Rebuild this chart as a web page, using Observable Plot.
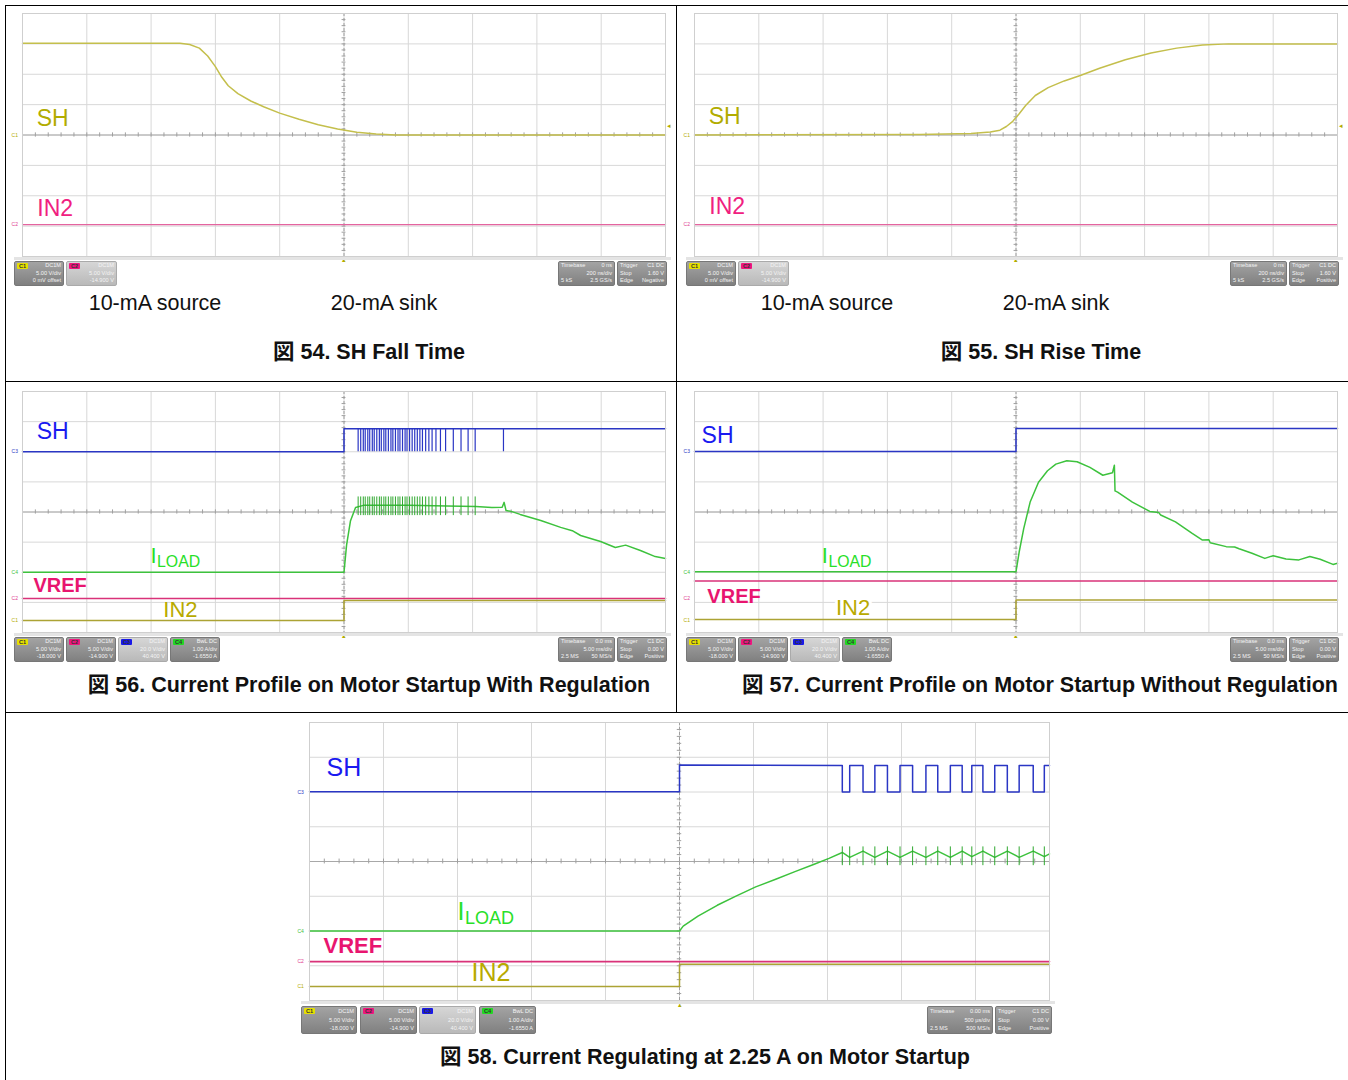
<!DOCTYPE html>
<html><head><meta charset="utf-8">
<script src="https://cdn.jsdelivr.net/npm/d3@7"></script>
<script src="https://cdn.jsdelivr.net/npm/@observablehq/plot@0.6"></script>
<style>
body{margin:0;background:#fff;}
#root{position:relative;width:1348px;height:1080px;overflow:hidden;background:#fff;font-family:"Liberation Sans",Arial,"Noto Sans CJK JP",sans-serif;}
.ln{position:absolute;background:#000;}
.txt{position:absolute;transform:translate(-50%,-50%);white-space:nowrap;color:#111;}
.cap{font-weight:bold;font-size:21.5px;font-family:"Liberation Sans",Arial,"Noto Sans CJK JP",sans-serif;}
.sub{font-size:21.5px;}
.box{position:absolute;box-sizing:border-box;border-radius:2px;background:linear-gradient(#a3a3a3,#808080);border:1px solid #777;font-size:5.6px;line-height:7.6px;color:#f4f4f4;padding:0 2px;}
.box.light{background:linear-gradient(#d6d6d6,#b9b9b9);border-color:#aaa;}
.box .row{display:flex;justify-content:space-between;}
.box .tag{display:inline-block;padding:0 2px;height:6px;line-height:6px;margin-top:1px;color:#333;font-weight:bold;border-radius:1px;}
.band{position:absolute;height:3px;background:#e4e4e4;}
</style></head><body><div id="root"></div>
<script>
// ---------------- DATA (scope screen units: x 0–10 div, y −4…+4 div) ----------------
// Fig 54 – SH fall
const fig54SH = [[0,3.02],[2.45,3.02],[2.6,2.98],[2.75,2.86],[2.88,2.6],[3.0,2.25],[3.1,1.9],[3.2,1.62],[3.35,1.36],[3.55,1.12],[3.75,0.93],[4.0,0.72],[4.3,0.52],[4.6,0.34],[4.9,0.2],[5.2,0.09],[5.5,0.03],[5.8,0.0],[10,0.0]];
const fig54IN2 = [[0,-2.95],[10,-2.95]];
// Fig 55 – SH rise
const fig55SH = [[0,0.0],[3.5,0.02],[4.3,0.05],[4.6,0.1],[4.75,0.16],[4.85,0.28],[4.95,0.45],[5.05,0.7],[5.15,0.97],[5.3,1.3],[5.5,1.56],[5.75,1.78],[6.0,1.96],[6.3,2.2],[6.7,2.48],[7.1,2.7],[7.5,2.86],[7.9,2.96],[8.3,3.0],[10,3.0]];
const fig55IN2 = [[0,-2.95],[10,-2.95]];
// Fig 56 – with regulation
const fig56SH = [[0,2.0],[5.0,2.0],[5.0,2.76],[10,2.76]];
const fig56SHPulses = [5.22,5.26,5.3,5.33,5.37,5.4,5.44,5.47,5.51,5.55,5.58,5.62,5.65,5.69,5.73,5.76,5.8,5.84,5.87,5.91,5.95,5.98,6.02,6.06,6.1,6.14,6.18,6.22,6.27,6.32,6.37,6.43,6.5,6.58,6.7,6.82,6.93,7.04,7.48];
const fig56ILOAD = [[0,-2.0],[5.0,-2.0],[5.04,-1.1],[5.1,-0.3],[5.18,0.15],[5.3,0.22],[6.0,0.22],[6.6,0.2],[7.05,0.18],[7.3,0.15],[7.46,0.16],[7.49,0.32],[7.52,0.05],[7.6,0.02],[7.74,-0.08],[8.06,-0.28],[8.37,-0.51],[8.55,-0.62],[8.68,-0.78],[8.99,-0.98],[9.22,-1.18],[9.38,-1.1],[9.61,-1.28],[9.84,-1.48],[10,-1.54]];
const fig56ILOADSpikes = [5.22,5.26,5.3,5.33,5.37,5.4,5.44,5.47,5.51,5.55,5.58,5.62,5.65,5.69,5.73,5.76,5.8,5.84,5.87,5.91,5.95,5.98,6.02,6.06,6.1,6.14,6.18,6.22,6.27,6.32,6.37,6.43,6.5,6.58,6.7,6.82,6.93,7.04];
const fig56VREF = [[0,-2.87],[10,-2.87]];
const fig56IN2 = [[0,-3.6],[5.0,-3.6],[5.0,-2.94],[10,-2.94]];
// Fig 57 – without regulation
const fig57SH = [[0,2.01],[5.0,2.01],[5.0,2.77],[10,2.77]];
const fig57ILOAD = [[0,-1.98],[5.0,-1.98],[5.05,-1.32],[5.12,-0.55],[5.22,0.33],[5.35,0.99],[5.49,1.37],[5.62,1.59],[5.79,1.7],[5.95,1.67],[6.15,1.48],[6.35,1.22],[6.5,1.3],[6.53,1.55],[6.54,0.7],[6.58,0.66],[6.81,0.33],[7.08,0.02],[7.22,-0.02],[7.25,-0.1],[7.48,-0.33],[7.74,-0.71],[7.9,-0.93],[8.0,-0.92],[8.02,-1.02],[8.27,-1.15],[8.4,-1.16],[8.47,-1.22],[8.67,-1.37],[8.87,-1.54],[9.0,-1.45],[9.2,-1.56],[9.4,-1.59],[9.57,-1.48],[9.73,-1.57],[9.93,-1.74],[10,-1.7]];
const fig57VREF = [[0,-2.29],[10,-2.29]];
const fig57IN2 = [[0,-3.57],[5.0,-3.57],[5.0,-2.92],[10,-2.92]];
// Fig 58 – regulating at 2.25 A
const fig58SH = [[0,2.01],[5.0,2.01],[5.0,2.78],[7.2,2.76],[7.2,2.0],[7.3,2.0],[7.3,2.76],[7.48,2.76],[7.48,2.0],[7.64,2.0],[7.64,2.76],[7.81,2.76],[7.81,2.0],[7.98,2.0],[7.98,2.76],[8.15,2.76],[8.15,2.0],[8.33,2.0],[8.33,2.76],[8.49,2.76],[8.49,2.0],[8.66,2.0],[8.66,2.76],[8.82,2.76],[8.82,2.0],[8.95,2.0],[8.95,2.76],[9.1,2.76],[9.1,2.0],[9.26,2.0],[9.26,2.76],[9.43,2.76],[9.43,2.0],[9.59,2.0],[9.59,2.76],[9.78,2.76],[9.78,2.0],[9.93,2.0],[9.93,2.76],[10,2.76]];
const fig58ILOAD = [[0,-2.0],[5.0,-2.0],[5.05,-1.86],[5.25,-1.57],[5.51,-1.26],[5.77,-0.99],[6.03,-0.73],[6.3,-0.51],[6.56,-0.29],[6.82,-0.08],[7.02,0.09],[7.2,0.26],[7.3,0.12],[7.48,0.3],[7.64,0.12],[7.81,0.3],[7.98,0.12],[8.15,0.3],[8.33,0.12],[8.49,0.3],[8.66,0.12],[8.82,0.3],[8.95,0.14],[9.1,0.3],[9.26,0.12],[9.43,0.3],[9.59,0.12],[9.78,0.3],[9.93,0.14],[10,0.22]];
const fig58ILOADSpikes = [7.2,7.3,7.48,7.64,7.81,7.98,8.15,8.33,8.49,8.66,8.82,8.95,9.1,9.26,9.43,9.59,9.78,9.93];
const fig58VREF = [[0,-2.88],[10,-2.88]];
const fig58IN2 = [[0,-3.6],[5.0,-3.6],[5.0,-2.96],[10,-2.96]];

// ---------------- COLOURS ----------------
const C = {
  shOlive:"#c4bf4c", in2Pink:"#e4649f", shBlue:"#2a36c4", iGreen:"#3dc23d", vrefPink:"#d93279", in2Olive:"#aca334",
  lblOlive:"#b2ac00", lblPink:"#f0207f", lblBlue:"#1a1af0", lblGreen:"#28e028", lblVref:"#e8156f", lblIn2:"#b8aa00"
};
const FONT = "Liberation Sans, Arial, sans-serif";

const root = document.getElementById("root");
function add(html, cls, x, y, style=""){
  const d = document.createElement("div");
  d.className = cls; d.innerHTML = html;
  d.style.cssText = `left:${x}px;top:${y}px;${style}`;
  root.appendChild(d); return d;
}
function line(x,y,w,h){ add("", "ln", x, y, `width:${w}px;height:${h}px;`); }

// ---------------- SCOPE PANEL ----------------
const divX = d3.range(0, 11), divY = d3.range(-4, 5);
const minorX = d3.range(0, 10.001, 0.2), minorY = d3.range(-4, 4.001, 0.2);
function scope({left, top, w, h, traces, spikes = [], labels = [], marks = []}){
  const plot = Plot.plot({
    width: w, height: h, margin: 0,
    x: {domain: [0, 10], axis: null},
    y: {domain: [-4, 4], axis: null},
    style: {background: "transparent", overflow: "visible", fontFamily: FONT},
    marks: [
      Plot.ruleX(divX, {stroke: "#d8d8d8", strokeWidth: 1}),
      Plot.ruleY(divY, {stroke: "#d8d8d8", strokeWidth: 1}),
      Plot.ruleX([5], {stroke: "#a0a0a0", strokeDasharray: "3,2"}),
      Plot.ruleY([0], {stroke: "#a8a8a8"}),
      Plot.ruleX(minorX, {x: d => d, y1: -0.07, y2: 0.07, stroke: "#a0a0a0"}),
      Plot.ruleY(minorY, {y: d => d, x1: 4.97, x2: 5.03, stroke: "#a0a0a0"}),
      ...labels.filter(l => l.bg).map(l => Plot.text([l], {x: "x", y: "y", text: "text", textAnchor: "start", fontSize: l.size, fontWeight: l.bold ? "bold" : "normal", fill: "white", stroke: "white", strokeWidth: 6})),
      ...traces.map(t => Plot.line(t.data, {x: d => d[0], y: d => d[1], stroke: t.color, strokeWidth: t.width ?? 1.4})),
      ...spikes.map(s => Plot.ruleX(s.data, {x: d => d, y1: s.y1, y2: s.y2, stroke: s.color, strokeWidth: s.width ?? 1})),
      ...labels.map(l => Plot.text([l], {x: "x", y: "y", text: "text", textAnchor: "start", fontSize: l.size, fontWeight: l.bold ? "bold" : "normal", fill: l.color})),
      ...labels.filter(l => l.sub).map(l => Plot.text([l], {x: "x", y: "y", text: d => d.sub, textAnchor: "start", dx: l.size * 0.3, dy: l.size * 0.28, fontSize: l.size * 0.72, fill: l.color})),
      ...marks.map(m => Plot.text([m], {x: "x", y: "y", text: "t", fontSize: m.size ?? 6, fill: m.color, textAnchor: "middle"})),
      Plot.frame({stroke: "#cfcfcf"})
    ]
  });
  plot.style.position = "absolute";
  plot.style.left = left + "px";
  plot.style.top = top + "px";
  root.appendChild(plot);
  add("", "band", left - 8, top + h + 1, `width:${w + 14}px;`);
}

function box(x, y, w, h, rows, opt = {}){
  const r = rows.map((row, i) => {
    const l = i === 0 && opt.tag ? `<span class="tag" style="background:${opt.tagColor}">${opt.tag}</span>` : `<span>${row[0]}</span>`;
    return `<div class="row">${l}<span>${row[1]}</span></div>`;
  }).join("");
  add(r, "box" + (opt.light ? " light" : ""), x, y, `width:${w}px;height:${h}px;` + (opt.h0 ? `line-height:${opt.h0}px;` : ""));
}

// ---------------- FRAME LINES ----------------
line(5, 5, 1343, 1); line(5, 5, 1, 1075); line(676, 5, 1, 707);
line(5, 381, 1343, 1); line(5, 712, 1343, 1);

// ---------------- FIG 54 ----------------
const lab = (text, x, y, color, size, extra = {}) => ({text, x, y, color, size, ...extra});
scope({left: 22, top: 13, w: 643, h: 243,
  traces: [{data: fig54SH, color: C.shOlive, width: 1.5}, {data: fig54IN2, color: C.in2Pink, width: 1.3}],
  labels: [lab("SH", 0.22, 0.54, C.lblOlive, 23), lab("IN2", 0.23, -2.42, C.lblPink, 23)],
  marks: [{t: "C1", x: -0.12, y: 0.0, color: "#b2ac00", size: 5}, {t: "C2", x: -0.12, y: -2.95, color: "#e0408f", size: 5}, {t: "▴", x: 5, y: -4.12, color: "#b2ac00", size: 7}, {t: "◂", x: 10.06, y: 0.3, color: "#b2ac00", size: 7}]
});
add("10-mA source", "txt sub", 155, 303); add("20-mA sink", "txt sub", 384, 303);
add("図 54. SH Fall Time", "txt cap", 369, 349);

// ---------------- FIG 55 ----------------
scope({left: 694, top: 13, w: 643, h: 243,
  traces: [{data: fig55SH, color: C.shOlive, width: 1.5}, {data: fig55IN2, color: C.in2Pink, width: 1.3}],
  labels: [lab("SH", 0.22, 0.6, C.lblOlive, 23), lab("IN2", 0.23, -2.35, C.lblPink, 23)],
  marks: [{t: "C1", x: -0.12, y: 0.0, color: "#b2ac00", size: 5}, {t: "C2", x: -0.12, y: -2.95, color: "#e0408f", size: 5}, {t: "▴", x: 5, y: -4.12, color: "#b2ac00", size: 7}, {t: "◂", x: 10.06, y: 0.3, color: "#b2ac00", size: 7}]
});
add("10-mA source", "txt sub", 827, 303); add("20-mA sink", "txt sub", 1056, 303);
add("図 55. SH Rise Time", "txt cap", 1041, 349);

// status bars for 54 / 55
for (const [dx, edge] of [[0, "Negative"], [672, "Positive"]]) {
  box(14 + dx, 261, 50, 25, [["", "DC1M"], ["", "5.00 V/div"], ["", "0 mV offset"]], {tag: "C1", tagColor: "#e6e000"});
  box(66 + dx, 261, 51, 25, [["", "DC1M"], ["", "5.00 V/div"], ["", "-14.900 V"]], {tag: "C2", tagColor: "#f0157e", light: true});
  box(558 + dx, 261, 57, 25, [["Timebase", "0 ns"], ["", "200 ns/div"], ["5 kS", "2.5 GS/s"]]);
  box(617 + dx, 261, 50, 25, [["Trigger", "C1 DC"], ["Stop", "1.60 V"], ["Edge", edge]]);
}

// ---------------- FIG 56 ----------------
const startupMarks = [{t: "C3", x: -0.12, y: 2.0, color: "#2a36c4", size: 5}, {t: "C4", x: -0.12, y: -2.0, color: "#3dc23d", size: 5}, {t: "C2", x: -0.12, y: -2.87, color: "#e0408f", size: 5}, {t: "C1", x: -0.12, y: -3.6, color: "#b2ac00", size: 5}, {t: "▴", x: 5, y: -4.12, color: "#b2ac00", size: 7}];
scope({left: 22, top: 391, w: 643, h: 241,
  traces: [{data: fig56VREF, color: C.vrefPink, width: 1.6}, {data: fig56IN2, color: C.in2Olive, width: 1.5}, {data: fig56SH, color: C.shBlue, width: 1.5}, {data: fig56ILOAD, color: C.iGreen, width: 1.5}],
  spikes: [{data: fig56SHPulses, y1: 2.0, y2: 2.76, color: C.shBlue, width: 1.2}, {data: fig56ILOADSpikes, y1: -0.12, y2: 0.5, color: "#2fa82f", width: 1}],
  labels: [lab("SH", 0.22, 2.67, C.lblBlue, 23), lab("I", 1.99, -1.45, C.lblGreen, 22, {sub: "LOAD"}), lab("VREF", 0.17, -2.44, C.lblVref, 20, {bold: true}), lab("IN2", 2.19, -3.24, C.lblIn2, 22)],
  marks: startupMarks
});
add("図 56. Current Profile on Motor Startup With Regulation", "txt cap", 369, 682);

// ---------------- FIG 57 ----------------
scope({left: 694, top: 391, w: 643, h: 241,
  traces: [{data: fig57VREF, color: C.vrefPink, width: 1.6}, {data: fig57IN2, color: C.in2Olive, width: 1.5}, {data: fig57SH, color: C.shBlue, width: 1.5}, {data: fig57ILOAD, color: C.iGreen, width: 1.5}],
  labels: [lab("SH", 0.11, 2.54, C.lblBlue, 23), lab("I", 1.98, -1.45, C.lblGreen, 22, {sub: "LOAD"}), lab("VREF", 0.2, -2.8, C.lblVref, 20, {bold: true}), lab("IN2", 2.2, -3.2, C.lblIn2, 22, {bg: true})],
  marks: startupMarks
});
add("図 57. Current Profile on Motor Startup Without Regulation", "txt cap", 1040, 682);

// status bars 56 / 57
for (const dx of [0, 672]) {
  const y = 637, hh = 25, w = 50;
  box(14 + dx, y, w, hh, [["", "DC1M"], ["", "5.00 V/div"], ["", "-18.000 V"]], {tag: "C1", tagColor: "#e6e000"});
  box(66 + dx, y, w, hh, [["", "DC1M"], ["", "5.00 V/div"], ["", "-14.900 V"]], {tag: "C2", tagColor: "#f0157e"});
  box(118 + dx, y, w, hh, [["", "DC1M"], ["", "20.0 V/div"], ["", "40.400 V"]], {tag: "C3", tagColor: "#1818e8", light: true});
  box(170 + dx, y, w, hh, [["", "BwL DC"], ["", "1.00 A/div"], ["", "-1.6550 A"]], {tag: "C4", tagColor: "#22d822"});
  box(558 + dx, y, 57, hh, [["Timebase", "0.0 ms"], ["", "5.00 ms/div"], ["2.5 MS", "50 MS/s"]]);
  box(617 + dx, y, 50, hh, [["Trigger", "C1 DC"], ["Stop", "0.00 V"], ["Edge", "Positive"]]);
}

// ---------------- FIG 58 ----------------
scope({left: 309, top: 722, w: 740, h: 278,
  traces: [{data: fig58VREF, color: C.vrefPink, width: 1.6}, {data: fig58IN2, color: C.in2Olive, width: 1.5}, {data: fig58SH, color: C.shBlue, width: 1.5}, {data: fig58ILOAD, color: C.iGreen, width: 1.5}],
  spikes: [{data: fig58ILOADSpikes, y1: -0.12, y2: 0.42, color: "#2fa82f", width: 1}],
  labels: [lab("SH", 0.23, 2.68, C.lblBlue, 25), lab("I", 2.0, -1.44, C.lblGreen, 25, {sub: "LOAD"}), lab("VREF", 0.19, -2.42, C.lblVref, 22, {bold: true}), lab("IN2", 2.19, -3.22, C.lblIn2, 25)],
  marks: startupMarks
});
box(301, 1006, 56, 28, [["", "DC1M"], ["", "5.00 V/div"], ["", "-18.000 V"]], {tag: "C1", tagColor: "#e6e000", h0: 8.5});
box(360, 1006, 57, 28, [["", "DC1M"], ["", "5.00 V/div"], ["", "-14.900 V"]], {tag: "C2", tagColor: "#f0157e", h0: 8.5});
box(419, 1006, 57, 28, [["", "DC1M"], ["", "20.0 V/div"], ["", "40.400 V"]], {tag: "C3", tagColor: "#1818e8", light: true, h0: 8.5});
box(479, 1006, 57, 28, [["", "BwL DC"], ["", "1.00 A/div"], ["", "-1.6550 A"]], {tag: "C4", tagColor: "#22d822", h0: 8.5});
box(927, 1006, 66, 28, [["Timebase", "0.00 ms"], ["", "500 µs/div"], ["2.5 MS", "500 MS/s"]], {h0: 8.5});
box(995, 1006, 57, 28, [["Trigger", "C1 DC"], ["Stop", "0.00 V"], ["Edge", "Positive"]], {h0: 8.5});
add("図 58. Current Regulating at 2.25 A on Motor Startup", "txt cap", 705, 1054);
</script></body></html>
